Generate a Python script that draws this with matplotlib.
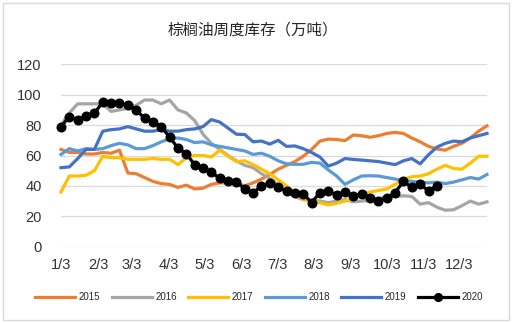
import matplotlib
matplotlib.use("Agg")
import matplotlib.pyplot as plt
import pandas as pd
from matplotlib.patches import Rectangle

plt.rcParams['font.family'] = ['Liberation Sans', 'Noto Sans CJK SC', 'DejaVu Sans']

title = "棕榈油周度库存（万吨）"
years = ["2015", "2016", "2017", "2018", "2019", "2020"]
colors = ["#ED7D31", "#A5A5A5", "#FFC000", "#5B9BD5", "#4472C4", "#000000"]
tick_labels = ["1/3", "2/3", "3/3", "4/3", "5/3", "6/3", "7/3", "8/3", "9/3", "10/3", "11/3", "12/3"]
y_ticks = [0, 20, 40, 60, 80, 100, 120]

s2015 = [64, 62, 62, 61, 61, 62, 61.5, 63.5, 48.5, 48, 45.5, 43, 41.5, 41, 39, 40.5,
         38, 38.5, 41, 42, 42, 42, 40, 42, 44.5, 47.5, 51, 53.5, 56, 59.5, 64, 69.5,
         70.8, 70.5, 69.8, 73.5, 73, 72, 73, 74.5, 75.2, 74.5, 71.5, 69, 66, 64.3,
         63.5, 66, 68, 71.5, 76, 79.5]
s2016 = [80, 88, 94, 94, 94, 94, 89, 90, 91, 93, 96.5, 96.5, 94, 96.5, 90, 88,
         83, 74, 68, 64, 60, 56.5, 53.5, 52, 48, 45, 40.5, 36, 33, 31, 30.5, 30,
         29, 30, 31, 29.5, 30, 30.5, 31.5, 33, 33, 33.5, 33, 28, 29, 26,
         24, 24.3, 27, 30, 28, 29.5]
s2017 = [36, 46.5, 46.5, 47, 50, 59.5, 58.5, 58.5, 57.5, 57.5, 57.5, 58, 57.5, 57.5, 54, 58.5,
         60, 60, 59, 63.5, 59.5, 56, 56.5, 54, 51, 48, 44, 40, 35.5, 31, 30, 29,
         27.5, 28.5, 30, 31.5, 34, 36, 37, 38, 41, 44.5, 46, 46.5, 48, 51,
         53.5, 51.5, 51, 55, 59.5, 59.5]
s2018 = [60.7, 64.5, 63, 64.5, 64, 64.5, 66.5, 68, 67, 64.5, 64.5, 66.5, 69, 71, 71.5, 70.5,
         68.5, 69, 67, 66, 65, 64, 63, 60.7, 61.5, 59.5, 56.5, 54.5, 54.2, 54.2, 55.5, 55,
         50.5, 46.5, 41, 44, 46.5, 46.7, 46.5, 45.5, 44.5, 43.5, 43, 42.5, 42, 42.5,
         41.5, 42.5, 44, 45.5, 44.5, 47.5]
s2019 = [52, 52.5, 58, 64, 64, 76, 77, 77.5, 79, 77.5, 76, 76, 77, 76, 76, 77,
         77.5, 79, 83.6, 82, 78, 74, 73.8, 69, 69.5, 67.5, 70, 66, 66.3, 64.5, 62, 59,
         53, 55, 58, 57.4, 57, 56.5, 56, 55, 54, 56.5, 58, 54.5, 60.5, 65.5,
         68, 69.5, 69, 71.5, 73, 74.5]
s2020 = [79, 85.5, 83.5, 86, 88, 95, 94.5, 94.5, 93, 90, 84.5, 82, 79, 72, 65, 61,
         54, 52, 49, 45, 43.5, 42.5, 38, 35.5, 40, 42, 39, 36.7, 35.6, 35, 29, 35.6,
         36.7, 34, 36, 33.4, 34.5, 32.3, 30, 32.3, 35.6, 43, 39, 41, 36.7, 40]
series = [s2015, s2016, s2017, s2018, s2019, s2020]

base = pd.Timestamp("2019-01-03")
tick_dates = [pd.Timestamp(year=2019, month=int(t.split("/")[0]), day=int(t.split("/")[1]))
              for t in tick_labels]

fig = plt.figure(figsize=(5.13, 3.23), dpi=100)
ax = fig.add_axes([61 / 513, 1 - 246.7 / 323, (487 - 61) / 513, (246.7 - 64.3) / 323])

for name, vals, c in zip(years, series, colors):
    dates = pd.date_range(base, periods=len(vals), freq="7D")
    if name == "2020":
        ax.plot(dates, vals, color=c, lw=2.3, marker="o", markersize=6.2,
                label=name, zorder=5, clip_on=False)
    else:
        ax.plot(dates, vals, color=c, lw=2.3, label=name, clip_on=False,
                solid_joinstyle="round")

ax.set_xlim(base, base + pd.Timedelta(days=7 * 51))
ax.set_ylim(0, 120)
ax.set_yticks(y_ticks)
ax.set_xticks(tick_dates)
ax.set_xticklabels(tick_labels)
ax.tick_params(axis="both", length=0, labelsize=10.5, colors="#333333")
ax.tick_params(axis="y", pad=14)
ax.tick_params(axis="x", pad=8)
ax.grid(axis="y", color="#D9D9D9", lw=0.9)
ax.set_axisbelow(True)
for sp in ax.spines.values():
    sp.set_visible(False)

fig.text(253 / 513, 1 - 30 / 323, title, ha="center", va="center", fontsize=11.2,
         color="#262626", family=["Noto Sans CJK SC", "DejaVu Sans"])

leg = fig.legend(loc="center", bbox_to_anchor=(259 / 513, 1 - 297 / 323), ncol=6,
                 frameon=False, fontsize=7, handlelength=4.1, handletextpad=0.35,
                 columnspacing=1.2, markerscale=0.9)
for t in leg.get_texts():
    t.set_color("#262626")

fig.add_artist(Rectangle((3 / 513, 1 - 320 / 323), 506 / 513, 317 / 323,
                         transform=fig.transFigure, fill=False, edgecolor="#D9D9D9", lw=1))

fig.savefig("out.png", dpi=100)
